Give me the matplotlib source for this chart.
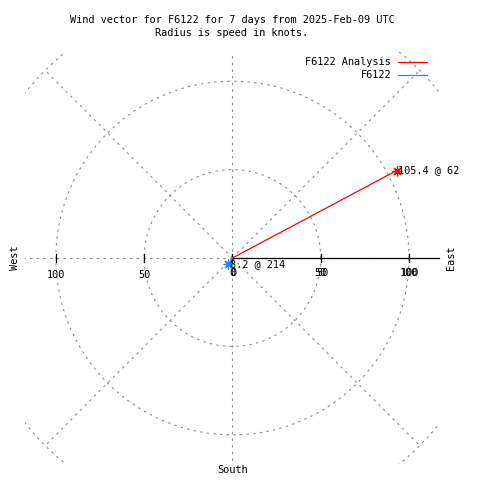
import numpy as np
import matplotlib
matplotlib.use("Agg")
import matplotlib.pyplot as plt

# ---- data ----
series_names = ["F6122 Analysis", "F6122"]
speeds_kt = [105.4, 8.2]
directions_deg = [62, 214]
plot_radius = [105.4, 4.2]
series_colors = ["#ff0000", "#1a8cff"]
ring_radii = [50, 100, 150]
spoke_angles = [0, 45, 90, 135, 180, 225, 270, 315]
right_ticks = [0, 50, 100]
left_ticks = [-100, -50]
left_tick_labels = ["100", "50"]
title_lines = ["Wind vector for F6122 for 7 days from 2025-Feb-09 UTC",
               "Radius is speed in knots."]

plt.rcParams['lines.scale_dashes'] = False
FONT = "DejaVu Sans Mono"
FS = 7.4
GRID = "#8c8c8c"
DASH = (1.8, 3.0)

W = H = 480
fig = plt.figure(figsize=(4.8, 4.8), dpi=100)
ax = fig.add_axes([25 / W, (480 - 464) / H, 414 / W, 412 / H])
ax.set_xlim(-117.5, 117)
ax.set_ylim(-116.5, 116.5)
ax.axis("off")

theta = np.linspace(0, 2 * np.pi, 721)
for r in ring_radii:
    ax.plot(r * np.cos(theta), r * np.sin(theta), color=GRID, lw=0.8,
            dashes=DASH, clip_on=True)
for a in spoke_angles:
    t = np.deg2rad(a)
    ax.plot([0, ring_radii[-1] * np.cos(t)], [0, ring_radii[-1] * np.sin(t)],
            color=GRID, lw=0.8, dashes=DASH, clip_on=True)

# solid axis on the right
ax.plot([0, 117], [0, 0], color="black", lw=0.9, clip_on=False)
for v in right_ticks + left_ticks:
    ax.plot([v, v], [-2.2, 2.2], color="black", lw=0.9)
for v in right_ticks:
    for dx in (0, 0.9):
        ax.annotate(str(v), xy=(v, 0), xytext=(dx, -11), textcoords="offset points",
                    ha="center", va="center", fontsize=FS, family=FONT)
for v, lab in zip(left_ticks, left_tick_labels):
    ax.annotate(lab, xy=(v, 0), xytext=(0, -12), textcoords="offset points",
                ha="center", va="center", fontsize=FS, family=FONT)

# vectors
for name, spd, d, rp, c in zip(series_names, speeds_kt, directions_deg, plot_radius, series_colors):
    t = np.deg2rad(90 - d)
    x, y = rp * np.cos(t), rp * np.sin(t)
    ax.plot([0, x], [0, y], color=c, lw=0.9)
    ax.plot([x], [y], marker=(8, 2, 0), ms=7, mew=0.9, color=c, ls="none")
    ax.annotate(f"{spd:g} @ {d}", xy=(x, y), xytext=(1, 0), textcoords="offset points",
                ha="left", va="center", fontsize=FS, family=FONT)

# titles
fig.text(232 / W, 1 - 20 / H, title_lines[0], ha="center", va="center", fontsize=FS, family=FONT)
fig.text(232 / W, 1 - 33 / H, title_lines[1], ha="center", va="center", fontsize=FS, family=FONT)

# legend
for i, (name, c) in enumerate(zip(series_names, series_colors)):
    yy = 1 - (62 + 13 * i) / H
    fig.text(391 / W, yy, name, ha="right", va="center", fontsize=FS, family=FONT)
    fig.add_artist(plt.Line2D([398 / W, 427 / W], [yy, yy], color=c, lw=0.9,
                              transform=fig.transFigure))

# compass labels
fig.text(15 / W, 1 - 258 / H, "West", rotation=90, ha="center", va="center", fontsize=FS, family=FONT)
fig.text(451 / W, 1 - 258 / H, "East", rotation=90, ha="center", va="center", fontsize=FS, family=FONT)
fig.text(233 / W, 1 - 470 / H, "South", ha="center", va="center", fontsize=FS, family=FONT)

fig.savefig("out.png", dpi=100, facecolor="white")
